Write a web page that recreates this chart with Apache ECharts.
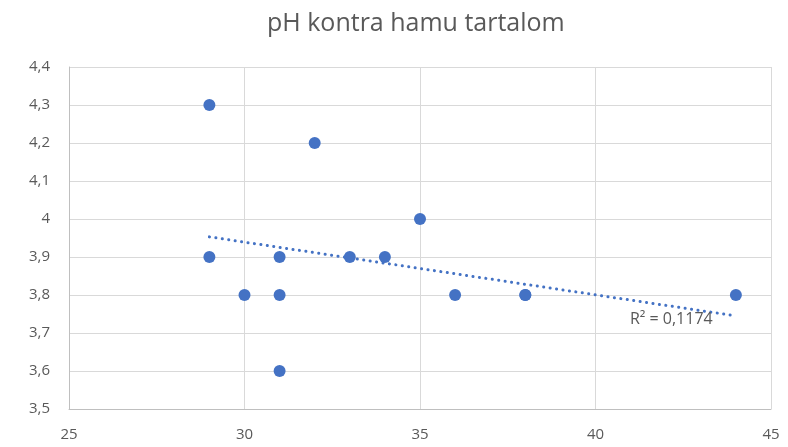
<!DOCTYPE html>
<html>
<head>
<meta charset="utf-8">
<script src="https://cdn.jsdelivr.net/npm/echarts@6/dist/echarts.min.js"></script>
<style>
  html, body { margin: 0; padding: 0; background: #fff; }
  #chart { width: 788px; height: 447px; }
</style>
</head>
<body>
<div id="chart"></div>
<script>
// hamu tartalom (x) es pH (y)
const ashValues = [29, 32, 35, 29, 31, 33, 34, 30, 31, 36, 38, 38, 44, 31];
const phValues = [4.3, 4.2, 4.0, 3.9, 3.9, 3.9, 3.9, 3.8, 3.8, 3.8, 3.8, 3.8, 3.8, 3.6];

// trendvonal vegpontjai, a kepről leolvasva
const trendX = [29, 44];
const trendY = [3.953, 3.745];
const trendLabel = "R² = 0,1174";

const blue = "#4472C4";
const grey = "#595959";
const font = "'Open Sans', 'Noto Sans', sans-serif";

const chart = echarts.init(document.getElementById("chart"));

const points = ashValues.map((x, i) => [x, phValues[i]]);
const trend = trendX.map((x, i) => [x, trendY[i]]);

chart.setOption({
  animation: false,
  title: {
    text: "pH kontra hamu tartalom",
    left: 262,
    top: 6,
    textStyle: { color: grey, fontSize: 25, fontWeight: "normal", fontFamily: font },
  },
  grid: { left: 69, right: 17, top: 67, bottom: 38 },
  xAxis: {
    type: "value",
    min: 25,
    max: 45,
    interval: 5,
    axisLine: { lineStyle: { color: "#bfbfbf" } },
    axisTick: { show: false },
    axisLabel: { color: grey, fontSize: 15, fontFamily: font, margin: 18 },
    splitLine: { lineStyle: { color: "#d9d9d9" } },
  },
  yAxis: {
    type: "value",
    min: 3.5,
    max: 4.4,
    interval: 0.1,
    axisLine: { show: true, lineStyle: { color: "#bfbfbf" } },
    axisTick: { show: false },
    axisLabel: {
      color: grey,
      fontSize: 15,
      fontFamily: font,
      margin: 19,
      formatter: (v) => String(Math.round(v * 10) / 10).replace(".", ","),
    },
    splitLine: { lineStyle: { color: "#d9d9d9" } },
  },
  series: [
    {
      type: "line",
      data: trend,
      symbol: "none",
      lineStyle: { color: blue, width: 3, type: [0.1, 6.4], cap: "round" },
      z: 1,
      label: { show: false },
      endLabel: {
        show: true,
        formatter: () => trendLabel,
        position: "left",
        color: grey,
        fontSize: 16,
        fontFamily: font,
        offset: [-114, 4],
      },
    },
    {
      type: "scatter",
      data: points,
      symbolSize: 12,
      itemStyle: { color: blue, opacity: 1 },
      z: 2,
    },
  ],
});
</script>
</body>
</html>
